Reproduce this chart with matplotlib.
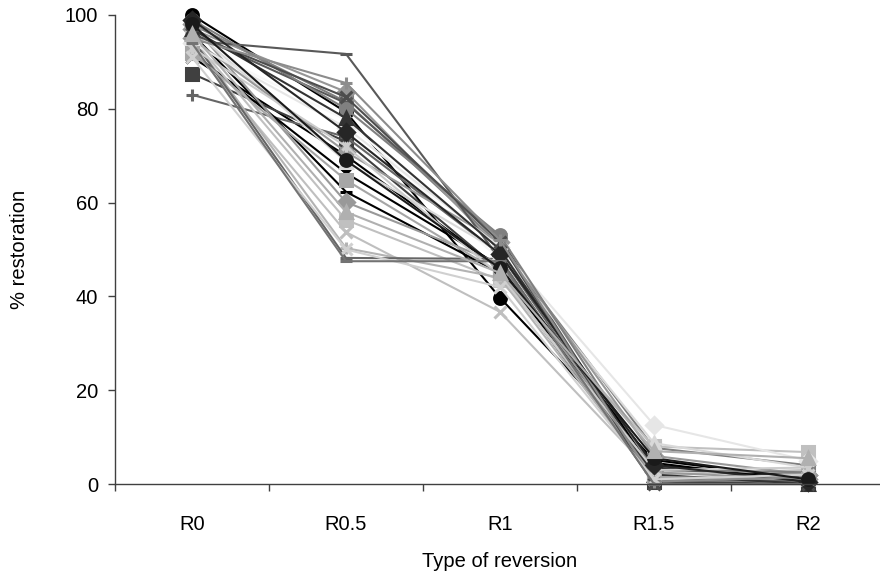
import numpy as np
import matplotlib
matplotlib.use("Agg")
from matplotlib import pyplot as plt
from matplotlib.path import Path

plt.rcParams['font.family'] = ['Liberation Sans', 'DejaVu Sans']

categories = ["R0", "R0.5", "R1", "R1.5", "R2"]

# % restoration per sample, one list per reversion type
r0  = [100, 98, 97, 96, 94, 91, 87.5, 83, 94.5, 92, 95, 93, 95, 95, 96,
       98, 97, 95, 94, 99, 97, 92, 96, 93, 99, 95, 91, 94, 98, 96]
r05 = [79.3, 81.5, 83.6, 81.2, 77.6, 70, 73, 74, 91.7, 66.3, 56.3, 53.7, 50.3, 48.2, 62.3,
       60.1, 68.7, 70.8, 76, 80, 78, 64.8, 82.5, 72, 75, 85.5, 50, 47.5, 69, 58]
r1  = [39.7, 51, 50, 52.4, 47.8, 46, 45.6, 49, 48, 46.5, 43.5, 36.7, 44, 48, 45,
       47, 49.5, 51.5, 50.5, 53, 50, 45, 51.6, 44.5, 49, 52, 42, 47.5, 46, 45]
r15 = [5.1, 7.7, 3, 1, 2.3, 4, 0.5, 1.5, 0, 3.5, 8, 2, 1, 0.5, 4.5,
       2.5, 8.7, 6, 12.6, 3, 2, 1.5, 0, 3, 4, 0.5, 1, 0, 5.5, 7]
r2  = [1, 4, 2, 0.5, 2.6, 1.5, 0, 0.5, 0, 1, 6.8, 3, 2, 1, 0.5,
       1, 3.5, 2, 5, 2.5, 0, 1, 0, 3.5, 0.5, 1.5, 2, 0, 1, 5.5]

# Excel-like star marker: x with a vertical bar
star = Path([(0, -1), (0, 1), (-0.7, -0.7), (0.7, 0.7), (-0.7, 0.7), (0.7, -0.7)],
            [Path.MOVETO, Path.LINETO, Path.MOVETO, Path.LINETO, Path.MOVETO, Path.LINETO])

colors = ['#000000', '#7f7f7f', '#969696', '#595959', '#f7f7f7', '#000000', '#404040',
          '#666666', '#595959', '#000000', '#c0c0c0', '#bfbfbf', '#b3b3b3', '#666666',
          '#000000', '#999999', '#d9d9d9', '#999999', '#e6e6e6', '#808080', '#333333',
          '#a6a6a6', '#4d4d4d', '#cccccc', '#262626', '#8c8c8c', '#d0d0d0', '#737373',
          '#1a1a1a', '#b0b0b0']
markers = ['o', 's', 'D', 'x', star, 'x', 's', '+', '_', star, 's', 'x', '+', '_', '_',
           'D', '^', 'D', 'D', 'o', '^', 's', 'x', star, 'D', '+', 'x', '_', 'o', '^']

fig = plt.figure(figsize=(8.8, 5.8), dpi=100)
ax = fig.add_axes([115/880, 96/580, 770/880, 469/580])

x = np.arange(len(categories))
data = np.array([r0, r05, r1, r15, r2]).T
for vals, c, m in zip(data, colors, markers):
    ax.plot(x, vals, color=c, lw=1.5, marker=m, markersize=8.5,
            markerfacecolor=c, markeredgecolor=c, markeredgewidth=2.2, clip_on=False)

ax.set_xlim(-0.5, 4.5)
ax.set_ylim(0, 100)
ax.set_yticks([0, 20, 40, 60, 80, 100])
ax.set_xticks(x)
ax.set_xticklabels(categories)
ax.set_xticks(np.arange(-0.5, 5, 1), minor=True)
ax.tick_params(axis='x', which='major', length=0, pad=22, labelsize=14.5)
ax.tick_params(axis='x', which='minor', length=5, width=1, color='#404040', direction='out')
ax.tick_params(axis='y', length=5, width=1, color='#404040', pad=7, labelsize=14.5)

for s in ['top', 'right']:
    ax.spines[s].set_visible(False)
for s in ['left', 'bottom']:
    ax.spines[s].set_color('#404040')
    ax.spines[s].set_linewidth(1)

ax.set_xlabel("Type of reversion", fontsize=14.5, labelpad=13)
ax.set_ylabel("% restoration", fontsize=14.5, labelpad=26)

plt.savefig("out.png", dpi=100)
